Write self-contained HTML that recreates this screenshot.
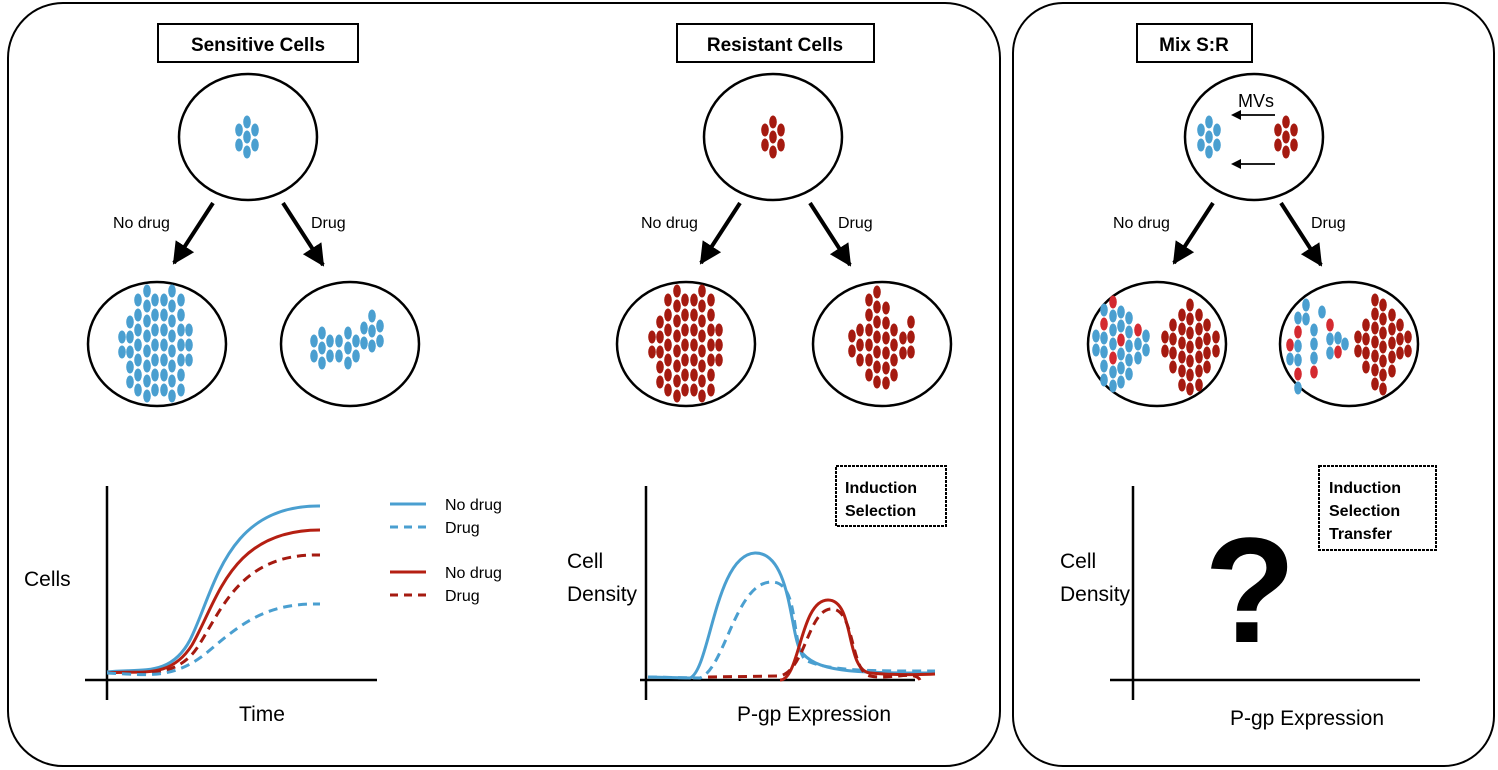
<!DOCTYPE html>
<html><head><meta charset="utf-8"><style>
body{margin:0;background:#fff}
svg{display:block}
text{font-family:"Liberation Sans",sans-serif}
</style></head><body>
<svg id="s" width="1498" height="770" viewBox="0 0 1498 770" xmlns="http://www.w3.org/2000/svg">
<defs>
<marker id="ah" markerWidth="10" markerHeight="10" refX="5" refY="5" orient="auto" markerUnits="userSpaceOnUse" viewBox="0 0 10 10"><path d="M0,0 L10,5 L0,10 z" fill="#000"/></marker>
<marker id="ab" markerWidth="24" markerHeight="22" refX="20" refY="11" orient="auto" markerUnits="userSpaceOnUse"><path d="M0,0 L22,11 L0,22 z" fill="#000"/></marker>
</defs>
<rect x="8" y="3" width="992" height="763" rx="55" fill="none" stroke="#000" stroke-width="2"/>
<rect x="1013" y="3" width="481" height="763" rx="50" fill="none" stroke="#000" stroke-width="2"/>

<rect x="158" y="24" width="200" height="38" fill="#fff" stroke="#000" stroke-width="2"/>
<text x="258" y="51" font-size="19" font-weight="bold" text-anchor="middle">Sensitive Cells</text>
<rect x="677" y="24" width="197" height="38" fill="#fff" stroke="#000" stroke-width="2"/>
<text x="775" y="51" font-size="19" font-weight="bold" text-anchor="middle">Resistant Cells</text>
<rect x="1137" y="24" width="115" height="38" fill="#fff" stroke="#000" stroke-width="2"/>
<text x="1194" y="51" font-size="19" font-weight="bold" text-anchor="middle">Mix S:R</text>

<g fill="none" stroke="#000" stroke-width="2.5">
<ellipse cx="248" cy="137" rx="69" ry="63"/>
<ellipse cx="773" cy="137" rx="69" ry="63"/>
<ellipse cx="1254" cy="137" rx="69" ry="63"/>
<ellipse cx="157" cy="344" rx="69" ry="62"/>
<ellipse cx="350" cy="344" rx="69" ry="62"/>
<ellipse cx="686" cy="344" rx="69" ry="62"/>
<ellipse cx="882" cy="344" rx="69" ry="62"/>
<ellipse cx="1157" cy="344" rx="69" ry="62"/>
<ellipse cx="1349" cy="344" rx="69" ry="62"/>
</g>
<g stroke="#000" stroke-width="4">
<line x1="213" y1="203" x2="174" y2="263" marker-end="url(#ab)"/>
<line x1="283" y1="203" x2="323" y2="265" marker-end="url(#ab)"/>
<line x1="740" y1="203" x2="701" y2="263" marker-end="url(#ab)"/>
<line x1="810" y1="203" x2="850" y2="265" marker-end="url(#ab)"/>
<line x1="1213" y1="203" x2="1174" y2="263" marker-end="url(#ab)"/>
<line x1="1281" y1="203" x2="1321" y2="265" marker-end="url(#ab)"/>
</g>
<g stroke="#000" stroke-width="1.8">
<line x1="1275" y1="115" x2="1236" y2="115" marker-end="url(#ah)"/>
<line x1="1275" y1="164" x2="1236" y2="164" marker-end="url(#ah)"/>
</g>
<text x="1256" y="107" font-size="18" text-anchor="middle">MVs</text>
<g font-size="16">
<text x="113" y="228">No drug</text><text x="311" y="228">Drug</text>
<text x="641" y="228">No drug</text><text x="838" y="228">Drug</text>
<text x="1113" y="228">No drug</text><text x="1311" y="228">Drug</text>
</g>
<g id="cells"></g>

<!-- graph 1 -->
<g stroke="#000" stroke-width="2.5"><line x1="107" y1="486" x2="107" y2="700"/><line x1="85" y1="680" x2="377" y2="680"/></g>
<text x="24" y="586" font-size="21">Cells</text>
<text x="262" y="721" font-size="21" text-anchor="middle">Time</text>
<g fill="none" stroke-width="3">
<path d="M107,672 C140,668 170,678 190,640 C215,590 225,505 320,506" stroke="#4a9fd0"/>
<path d="M107,673 C140,670 170,680 192,645 C218,600 230,530 320,530" stroke="#b51f12"/>
<path d="M107,673 C140,672 175,680 197,648 C222,610 240,553 320,555" stroke="#a51a10" stroke-dasharray="9,6"/>
<path d="M107,673 C150,675 175,680 210,650 C245,620 270,603 320,604" stroke="#4a9fd0" stroke-dasharray="9,6"/>
</g>
<g stroke-width="3">
<line x1="390" y1="504" x2="426" y2="504" stroke="#4a9fd0"/>
<line x1="390" y1="527" x2="426" y2="527" stroke="#4a9fd0" stroke-dasharray="8,6"/>
<line x1="390" y1="572" x2="426" y2="572" stroke="#b51f12"/>
<line x1="390" y1="595" x2="426" y2="595" stroke="#a51a10" stroke-dasharray="8,6"/>
</g>
<g font-size="16"><text x="445" y="510">No drug</text><text x="445" y="533">Drug</text><text x="445" y="578">No drug</text><text x="445" y="601">Drug</text></g>

<!-- graph 2 -->
<g stroke="#000" stroke-width="2.5"><line x1="646" y1="486" x2="646" y2="700"/><line x1="640" y1="680" x2="915" y2="680"/></g>
<text x="567" y="568" font-size="21">Cell</text><text x="567" y="601" font-size="21">Density</text>
<text x="814" y="721" font-size="21" text-anchor="middle">P-gp Expression</text>
<rect x="836" y="466" width="110" height="60" fill="#fff" stroke="#000" stroke-width="2" stroke-dasharray="3,1"/>
<text x="845" y="493" font-size="16" font-weight="bold">Induction</text>
<text x="845" y="516" font-size="16" font-weight="bold">Selection</text>
<g fill="none" stroke-width="3">
<path d="M648,677 L690,678 C710,670 715,555 755,553 C790,552 790,630 800,650 C815,672 850,673 935,673" stroke="#4a9fd0"/>
<path d="M648,677 L700,678 C725,668 735,585 770,582 C800,580 790,640 805,660 C830,672 880,671 935,671" stroke="#4a9fd0" stroke-dasharray="9,6"/>
<path d="M780,680 C800,680 800,600 828,600 C855,600 845,670 870,673 C900,676 935,674 935,674" stroke="#b51f12"/>
<path d="M708,677 L780,676 C805,670 808,612 830,609 C855,606 850,672 870,676 C890,680 915,670 920,680" stroke="#a51a10" stroke-dasharray="9,6"/>
</g>

<!-- graph 3 -->
<g stroke="#000" stroke-width="2.5"><line x1="1133" y1="486" x2="1133" y2="700"/><line x1="1110" y1="680" x2="1420" y2="680"/></g>
<text x="1060" y="568" font-size="21">Cell</text><text x="1060" y="601" font-size="21">Density</text>
<text x="1307" y="725" font-size="21" text-anchor="middle">P-gp Expression</text>
<rect x="1319" y="466" width="117" height="84" fill="#fff" stroke="#000" stroke-width="2" stroke-dasharray="3,1"/>
<text x="1329" y="493" font-size="16" font-weight="bold">Induction</text>
<text x="1329" y="516" font-size="16" font-weight="bold">Selection</text>
<text x="1329" y="539" font-size="16" font-weight="bold">Transfer</text>
<text x="1250" y="642" font-size="150" font-weight="bold" text-anchor="middle">?</text>
</svg>
<script>
(function(){
var g=document.getElementById('cells'),B='#4a9fd0',R='#a51a10',P='#d42a30';
function c(x,y,col){var e=document.createElementNS('http://www.w3.org/2000/svg','ellipse');e.setAttribute('cx',x);e.setAttribute('cy',y);e.setAttribute('rx',3.8);e.setAttribute('ry',6.5);e.setAttribute('fill',col);g.appendChild(e);}
function clu(cols,col,step){step=step||15;cols.forEach(function(cc){for(var k=0;k<cc[2];k++){var cc2=col;if(cc[3]&&cc[3].indexOf(k)>=0)cc2=P;c(cc[0],cc[1]+k*step,cc2);}});}
var big=[[122,337,2],[130,322,5],[138,300,7],[147,291,8],[155,300,7],[164,300,7],[172,291,8],[181,300,7],[189,330,3]];
clu(big,B);
clu(big.map(function(a){return [a[0]+530,a[1],a[2]];}),R);
clu([[314,341,2],[322,333,3],[330,341,2],[339,341,2],[348,333,3],[356,341,2],[364,328,2],[372,316,3],[380,326,2]],B);
clu([[852,336,2],[860,330,3],[869,300,6],[877,292,7],[886,308,6],[894,330,4],[903,338,2],[911,322,3]],R);
function tp(x,col){c(x-8,130,col);c(x-8,145,col);c(x,122,col);c(x,137,col);c(x,152,col);c(x+8,130,col);c(x+8,145,col);}
tp(247,B);tp(773,R);tp(1209,B);tp(1286,R);
clu([[1096,336,2],[1104,310,6,[1]],[1113,302,7,[0,4]],[1121,312,6,[2]],[1129,318,5],[1138,330,3,[0,3]],[1146,336,2]],B,14);
clu([[1165,337,2],[1173,325,4],[1182,315,6],[1190,305,7],[1199,315,6],[1207,325,4],[1216,337,2]],R,14);
clu([[1290,345,2,[0]],[1298,318,6,[1,4]],[1306,305,2],[1314,330,4,[3]],[1322,312,1],[1330,325,3,[0]],[1338,338,2,[1]],[1345,344,1]],B,14);
clu([[1358,337,2],[1366,325,4],[1375,300,7],[1383,305,7],[1392,315,5],[1400,325,3],[1408,337,2]],R,14);
})();
</script>
</body></html>
